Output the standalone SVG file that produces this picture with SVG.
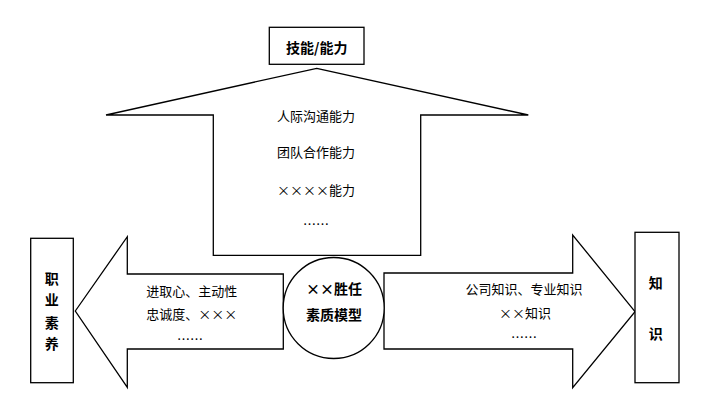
<svg xmlns="http://www.w3.org/2000/svg" width="708" height="416" viewBox="0 0 708 416">
<style>
.s{fill:#fff;stroke:#000;stroke-width:1.3}
text{font-family:"Noto Sans CJK SC","Noto Sans",sans-serif;font-size:13px;fill:#000;text-anchor:middle;dominant-baseline:central}
.b{font-weight:bold;font-size:14px}
</style>
<rect width="708" height="416" fill="#fff"/>
<g id="arrows">
<path id="up-arrow" class="s" d="M316.7,68.3 L528.3,115 L420.7,115 L420.7,255.3 L213.3,255.3 L213.3,115 L106,115 Z"/>
<path id="left-arrow" class="s" d="M75.3,311 L127.3,236.7 L127.3,274 L283.3,274 L283.3,349 L127.3,349 L127.3,387.3 Z"/>
<path id="right-arrow" class="s" d="M635,311.7 L572.7,235 L572.7,273 L384,273 L384,349 L572.7,349 L572.7,387.7 Z"/>
</g>
<g id="top-box"><rect class="s" x="269.3" y="27.3" width="94.7" height="37"/><text class="b" x="316.7" y="47">技能/能力</text></g>
<g id="skills">
<text x="316" y="115">人际沟通能力</text>
<text x="316" y="151.7">团队合作能力</text>
<text x="316" y="189">××××能力</text>
<text x="316" y="223">……</text>
</g>
<g id="center"><circle class="s" cx="333.7" cy="308" r="50.5"/><text class="b" x="334" y="287.7">××胜任</text><text class="b" x="334" y="314.3">素质模型</text></g>
<g id="left-text">
<text x="191.7" y="290">进取心、主动性</text>
<text x="191.7" y="313.3">忠诚度、×××</text>
<text x="190" y="338.3">……</text>
</g>
<g id="right-text">
<text x="524" y="288.3">公司知识、专业知识</text>
<text x="525" y="312.3">××知识</text>
<text x="524" y="336.7">……</text>
</g>
<g id="left-box"><rect class="s" x="30.7" y="238.3" width="42.6" height="144.4"/>
<text class="b" x="51.7" y="277.7">职</text><text class="b" x="51.7" y="299">业</text><text class="b" x="51.7" y="321.7">素</text><text class="b" x="51.7" y="343.3">养</text></g>
<g id="right-box"><rect class="s" x="635" y="232.3" width="44" height="150.4"/>
<text class="b" x="655.7" y="281.7">知</text><text class="b" x="655.7" y="333.3">识</text></g>
</svg>
